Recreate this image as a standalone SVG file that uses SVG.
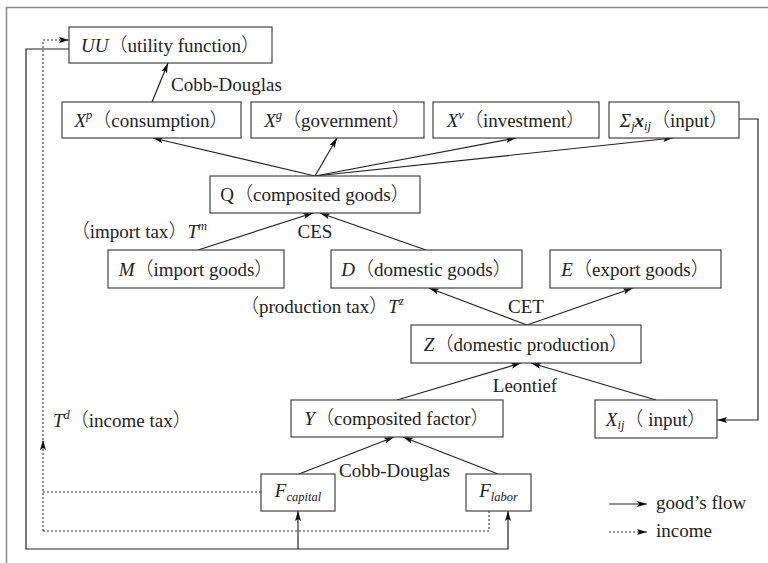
<svg xmlns="http://www.w3.org/2000/svg" width="768" height="563" viewBox="0 0 768 563">
<style>
.t{font-family:"Liberation Serif",serif;font-size:19px;fill:#222}
.c{font-family:"Noto Sans CJK JP","Noto Sans CJK SC",sans-serif;font-weight:300}
.i{font-style:italic}
.s{font-size:12.5px}
.box{fill:#fff;stroke:#444;stroke-width:1.2}
.ln{fill:none;stroke:#222;stroke-width:1.2}
.dt{fill:none;stroke:#333;stroke-width:1.1;stroke-dasharray:2 2}
</style>
<defs>
<marker id="ah" viewBox="0 0 10 6" refX="10" refY="3" markerWidth="10" markerHeight="6" markerUnits="userSpaceOnUse" orient="auto">
<path d="M0,0 L10,3 L0,6 L2,3 z" fill="#111"/>
</marker>
</defs>
<rect x="6.5" y="7.5" width="820" height="620" fill="none" stroke="#888" stroke-width="1.5"/>

<g id="connectors">
<line class="ln" x1="152" y1="102" x2="168" y2="63" marker-end="url(#ah)"/>
<line class="ln" x1="315" y1="176" x2="153" y2="138" marker-end="url(#ah)"/>
<line class="ln" x1="315" y1="176" x2="337" y2="138" marker-end="url(#ah)"/>
<line class="ln" x1="315" y1="176" x2="516" y2="138" marker-end="url(#ah)"/>
<line class="ln" x1="315" y1="176" x2="673" y2="138" marker-end="url(#ah)"/>
<path class="ln" d="M739,119 H758 V420 H717" marker-end="url(#ah)"/>
<line class="ln" x1="198" y1="250" x2="313" y2="213" marker-end="url(#ah)"/>
<line class="ln" x1="426" y1="250" x2="320" y2="213" marker-end="url(#ah)"/>
<line class="ln" x1="527" y1="325" x2="429" y2="288" marker-end="url(#ah)"/>
<line class="ln" x1="527" y1="325" x2="633" y2="288" marker-end="url(#ah)"/>
<line class="ln" x1="397" y1="400" x2="521" y2="363" marker-end="url(#ah)"/>
<line class="ln" x1="656" y1="400" x2="531" y2="363" marker-end="url(#ah)"/>
<line class="ln" x1="299" y1="474" x2="394" y2="437" marker-end="url(#ah)"/>
<line class="ln" x1="498" y1="474" x2="403" y2="437" marker-end="url(#ah)"/>
<path class="ln" d="M69,49 H26 V549 H508 V511" marker-end="url(#ah)"/>
<path class="ln" d="M298,549 V511" marker-end="url(#ah)"/>
<path class="dt" d="M261,492 H43"/>
<path class="dt" d="M489,511 V531 H43"/>
<path class="dt" d="M43,531 V440" marker-end="url(#ah)"/>
<path class="dt" d="M43,440 V40 H69" marker-end="url(#ah)"/>
<line class="ln" x1="609" y1="504" x2="647" y2="504" marker-end="url(#ah)"/>
<line class="dt" x1="609" y1="532" x2="647" y2="532" marker-end="url(#ah)"/>
</g>

<g id="UU"><rect class="box" x="69" y="27" width="203" height="36"/>
<text class="t" x="170.5" y="52" text-anchor="middle"><tspan class="i">UU</tspan><tspan class="c">（</tspan>utility function<tspan class="c">）</tspan></text></g>
<g id="Xp"><rect class="box" x="62" y="102" width="179" height="36"/>
<text class="t" x="151.5" y="127" text-anchor="middle"><tspan class="i">X</tspan><tspan class="i s" dy="-8">p</tspan><tspan class="c" dy="8">（</tspan>consumption<tspan class="c">）</tspan></text></g>
<g id="Xg"><rect class="box" x="251" y="102" width="173" height="36"/>
<text class="t" x="337.5" y="127" text-anchor="middle"><tspan class="i">X</tspan><tspan class="i s" dy="-8">g</tspan><tspan class="c" dy="8">（</tspan>government<tspan class="c">）</tspan></text></g>
<g id="Xv"><rect class="box" x="433" y="102" width="166" height="36"/>
<text class="t" x="516" y="127" text-anchor="middle"><tspan class="i">X</tspan><tspan class="i s" dy="-8">v</tspan><tspan class="c" dy="8">（</tspan>investment<tspan class="c">）</tspan></text></g>
<g id="Sigma"><rect class="box" x="609" y="102" width="130" height="36"/>
<text class="t" x="674" y="127" text-anchor="middle"><tspan class="i">Σ</tspan><tspan class="i s" dy="3">j</tspan><tspan class="i" dy="-3" font-weight="bold">x</tspan><tspan class="i s" dy="3">ij</tspan><tspan class="c" dy="-3">（</tspan>input<tspan class="c">）</tspan></text></g>
<g id="Q"><rect class="box" x="210" y="176" width="210" height="37"/>
<text class="t" x="315" y="201" text-anchor="middle">Q<tspan class="c">（</tspan>composited goods<tspan class="c">）</tspan></text></g>
<g id="M"><rect class="box" x="108" y="250" width="176" height="38"/>
<text class="t" x="196" y="276" text-anchor="middle"><tspan class="i">M</tspan><tspan class="c">（</tspan>import goods<tspan class="c">）</tspan></text></g>
<g id="D"><rect class="box" x="331" y="250" width="191" height="38"/>
<text class="t" x="426.5" y="276" text-anchor="middle"><tspan class="i">D</tspan><tspan class="c">（</tspan>domestic goods<tspan class="c">）</tspan></text></g>
<g id="E"><rect class="box" x="550" y="250" width="171" height="38"/>
<text class="t" x="635.5" y="276" text-anchor="middle"><tspan class="i">E</tspan><tspan class="c">（</tspan>export goods<tspan class="c">）</tspan></text></g>
<g id="Z"><rect class="box" x="411" y="325" width="230" height="38"/>
<text class="t" x="526" y="351" text-anchor="middle"><tspan class="i">Z</tspan><tspan class="c">（</tspan>domestic production<tspan class="c">）</tspan></text></g>
<g id="Y"><rect class="box" x="291" y="400" width="212" height="37"/>
<text class="t" x="397" y="425" text-anchor="middle"><tspan class="i">Y</tspan><tspan class="c">（</tspan>composited factor<tspan class="c">）</tspan></text></g>
<g id="Xij"><rect class="box" x="595" y="400" width="122" height="38"/>
<text class="t" x="656" y="426" text-anchor="middle"><tspan class="i">X</tspan><tspan class="i s" dy="3">ij</tspan><tspan class="c" dy="-3">（</tspan> input<tspan class="c">）</tspan></text></g>
<g id="Fcapital"><rect class="box" x="261" y="474" width="74" height="37"/>
<text class="t" x="298" y="497" text-anchor="middle"><tspan class="i">F</tspan><tspan class="i s" dy="4">capital</tspan></text></g>
<g id="Flabor"><rect class="box" x="466" y="474" width="65" height="37"/>
<text class="t" x="498.5" y="497" text-anchor="middle"><tspan class="i">F</tspan><tspan class="i s" dy="4">labor</tspan></text></g>

<g id="labels">
<text class="t" x="171" y="91">Cobb-Douglas</text>
<text class="t" x="315" y="238" text-anchor="middle">CES</text>
<text class="t" x="207" y="238" text-anchor="end"><tspan class="c">（</tspan>import tax<tspan class="c">）</tspan><tspan class="i">T</tspan><tspan class="i s" dy="-8">m</tspan></text>
<text class="t" x="240" y="313"><tspan class="c">（</tspan>production tax<tspan class="c">）</tspan><tspan class="i">T</tspan><tspan class="i s" dy="-8">z</tspan></text>
<text class="t" x="526" y="313" text-anchor="middle">CET</text>
<text class="t" x="525" y="392" text-anchor="middle">Leontief</text>
<text class="t" x="339" y="477">Cobb-Douglas</text>
<text class="t" x="53" y="427"><tspan class="i">T</tspan><tspan class="i s" dy="-8">d</tspan><tspan class="c" dy="8">（</tspan>income tax<tspan class="c">）</tspan></text>
<text class="t" x="656" y="509">good’s flow</text>
<text class="t" x="656" y="537">income</text>
</g>
</svg>
